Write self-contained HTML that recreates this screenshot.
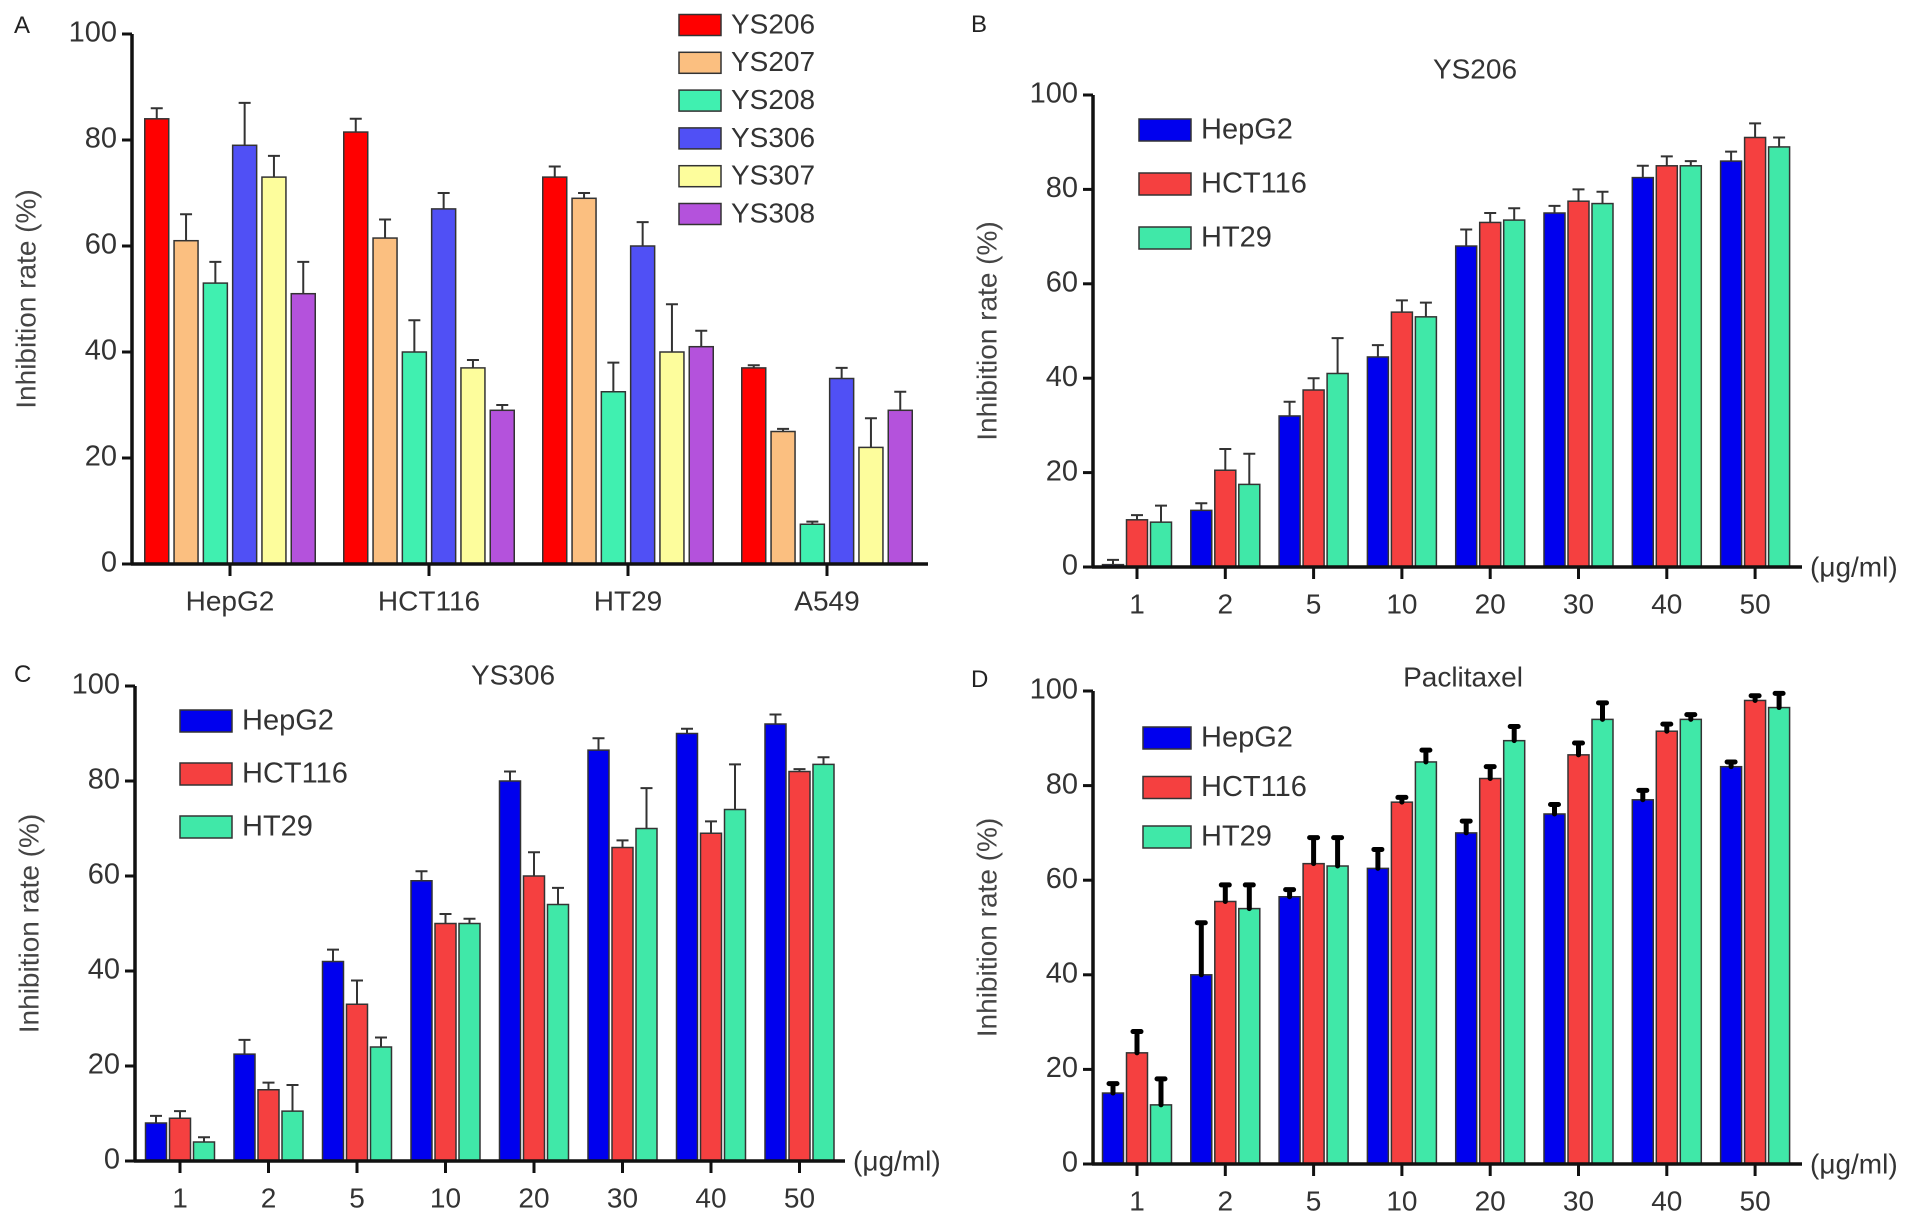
<!DOCTYPE html>
<html><head><meta charset="utf-8"><style>
html,body{margin:0;padding:0;background:#fff;}
svg{display:block;font-family:"Liberation Sans",Arial,sans-serif;}
</style></head><body>
<svg id="fig" width="1915" height="1222" viewBox="0 0 1915 1222" xmlns="http://www.w3.org/2000/svg"></svg>
<script>
// ---- Panel A data ----
const catsA = ["HepG2","HCT116","HT29","A549"];
const seriesNamesA = ["YS206","YS207","YS208","YS306","YS307","YS308"];
const ys206 = [84, 81.5, 73, 37];
const ys207 = [61, 61.5, 69, 25];
const ys208 = [53, 40, 32.5, 7.5];
const ys306 = [79, 67, 60, 35];
const ys307 = [73, 37, 40, 22];
const ys308 = [51, 29, 41, 29];
const ys206Err = [86, 84, 75, 37.5];
const ys207Err = [66, 65, 70, 25.5];
const ys208Err = [57, 46, 38, 8];
const ys306Err = [87, 70, 64.5, 37];
const ys307Err = [77, 38.5, 49, 27.5];
const ys308Err = [57, 30, 44, 32.5];
// ---- shared dose categories ----
const doses = ["1","2","5","10","20","30","40","50"];
const cellLines = ["HepG2","HCT116","HT29"];
const yTicks = [0,20,40,60,80,100];
// ---- Panel B (YS206) ----
const bHepG2 = [0.5, 12, 32, 44.5, 68, 75, 82.5, 86];
const bHCT116 = [10, 20.5, 37.5, 54, 73, 77.5, 85, 91];
const bHT29 = [9.5, 17.5, 41, 53, 73.5, 77, 85, 89];
const bHepG2Err = [1.5, 13.5, 35, 47, 71.5, 76.5, 85, 88];
const bHCT116Err = [11, 25, 40, 56.5, 75, 80, 87, 94];
const bHT29Err = [13, 24, 48.5, 56, 76, 79.5, 86, 91];
// ---- Panel C (YS306) ----
const cHepG2 = [8, 22.5, 42, 59, 80, 86.5, 90, 92];
const cHCT116 = [9, 15, 33, 50, 60, 66, 69, 82];
const cHT29 = [4, 10.5, 24, 50, 54, 70, 74, 83.5];
const cHepG2Err = [9.5, 25.5, 44.5, 61, 82, 89, 91, 94];
const cHCT116Err = [10.5, 16.5, 38, 52, 65, 67.5, 71.5, 82.5];
const cHT29Err = [5, 16, 26, 51, 57.5, 78.5, 83.5, 85];
// ---- Panel D (Paclitaxel) ----
const dHepG2 = [15, 40, 56.5, 62.5, 70, 74, 77, 84];
const dHCT116 = [23.5, 55.5, 63.5, 76.5, 81.5, 86.5, 91.5, 98];
const dHT29 = [12.5, 54, 63, 85, 89.5, 94, 94, 96.5];
const dHepG2Err = [17, 51, 58, 66.5, 72.5, 76, 79, 85];
const dHCT116Err = [28, 59, 69, 77.5, 84, 89, 93, 99];
const dHT29Err = [18, 59, 69, 87.5, 92.5, 97.5, 95, 99.5];

const NS = "http://www.w3.org/2000/svg";
const svg = document.getElementById("fig");
function mk(tag, attrs, parent, text){
  const e = document.createElementNS(NS, tag);
  for (const k in attrs) e.setAttribute(k, attrs[k]);
  if (text !== undefined) e.textContent = text;
  (parent || svg).appendChild(e);
  return e;
}

function panel(p){
  const g = mk("g", {});
  
  
  const y = v => p.y0 - (p.y0 - p.y100) * v / 100;
  const cx = i => p.x0 + p.step * i;
  const L = mk("text", {x:p.letter[0], y:p.letter[1], "font-size":24, fill:"#222"}, g, p.letterText);
  
  
  if (p.title){
    const t = mk("text", {x:p.title[0], y:p.title[1], "font-size":28, fill:"#333", "text-anchor":"middle", "dominant-baseline":"middle"}, g, p.title[2]);
    
    
  }
  const yt = mk("text", {x:0, y:0, "font-size":28, fill:"#444", "text-anchor":"middle", transform:`translate(${p.axisX-104},${(p.y0+p.y100)/2}) rotate(-90)`, "dominant-baseline":"middle"}, g, "Inhibition rate (%)");
  
  
  const n = p.series.length;
  const span = (n-1)*p.bstep + p.bw;
  p.series.forEach((s, si) => {
    s.vals.forEach((v, i) => {
      const x = cx(i) - span/2 + si*p.bstep;
      const top = y(v);
      const r = mk("rect", {x:x, y:top, width:p.bw, height:p.y0-top, fill:s.color, stroke:"#333", "stroke-width":1.5}, g);
      
      
      const e = s.err[i];
      if (e > v){
        const mx = x + p.bw/2;
        const sw = p.thickErr ? 5 : 2;
        const l = mk("path", {d:`M${mx},${top} L${mx},${y(e)} M${mx-(p.thickErr?4:6)},${y(e)} L${mx+(p.thickErr?4:6)},${y(e)}`, stroke:p.thickErr?"#000":"#333", "stroke-width":sw, fill:"none", "stroke-linecap":p.thickErr?"round":"butt"}, g);
        
        
      }
    });
  });
  const ax = mk("path", {d:`M${p.axisX},${p.y100} L${p.axisX},${p.y0} M${p.axisX-1},${p.y0} L${p.axisEnd},${p.y0}`, stroke:"#111", "stroke-width":3.5, fill:"none"}, g);
  
  
  yTicks.forEach(t => {
    const tk = mk("line", {x1:p.axisX-10, x2:p.axisX, y1:y(t), y2:y(t), stroke:"#111", "stroke-width":3}, g);
    
    
    const tl = mk("text", {x:p.axisX-15, y:y(t), "font-size":29, fill:"#333", "text-anchor":"end", "dominant-baseline":"middle"}, g, String(t));
    
    
  });
  p.cats.forEach((c, i) => {
    const tk = mk("line", {x1:cx(i), x2:cx(i), y1:p.y0, y2:p.y0+12, stroke:"#111", "stroke-width":3}, g);
    
    
    const tl = mk("text", {x:cx(i), y:p.y0+39, "font-size":28, fill:"#333", "text-anchor":"middle", "dominant-baseline":"middle"}, g, c);
    
    
  });
  if (p.unit){
    const u = mk("text", {x:p.axisEnd+8, y:p.y0+2, "font-size":28, fill:"#333", "dominant-baseline":"middle"}, g, "(\u03bcg/ml)");
    
    
  }
  p.series.forEach((s, si) => {
    const cy = p.leg.y + p.leg.dy*si;
    const sw = mk("rect", {x:p.leg.x, y:cy-p.leg.h/2, width:p.leg.w, height:p.leg.h, fill:s.color, stroke:"#333", "stroke-width":1.5}, g);
    
    
    const lt = mk("text", {x:p.leg.x+p.leg.w+10, y:cy+1, "font-size":p.leg.fs, fill:"#333", "dominant-baseline":"middle"}, g, s.label);
    
    
  });
}

const colsA = ["#ff0000","#fbbf80","#40f0b0","#5050f5","#fdfd9c","#b452dc"];
const valsA = [ys206, ys207, ys208, ys306, ys307, ys308];
const errsA = [ys206Err, ys207Err, ys208Err, ys306Err, ys307Err, ys308Err];
panel({name:"panel-a", letterText:"A", letter:[14,33], cats:catsA,
  series: seriesNamesA.map((nm,i)=>({label:nm, color:colsA[i], vals:valsA[i], err:errsA[i]})),
  axisX:132, axisEnd:928, y0:564, y100:34, x0:230, step:199, bw:24, bstep:29.3,
  leg:{x:679, y:25, dy:37.8, w:42, h:21, fs:28}});

const colsB = ["#0000ee","#f54040","#40e8a8"];
panel({name:"panel-b", letterText:"B", letter:[971,32], title:[1475,71,"YS206"], cats:doses, unit:true,
  series: [{label:"HepG2", color:colsB[0], vals:bHepG2, err:bHepG2Err},
           {label:"HCT116", color:colsB[1], vals:bHCT116, err:bHCT116Err},
           {label:"HT29", color:colsB[2], vals:bHT29, err:bHT29Err}],
  axisX:1093, axisEnd:1802, y0:567, y100:95, x0:1137, step:88.3, bw:21, bstep:24,
  leg:{x:1139, y:130, dy:54, w:52, h:22, fs:29}});

panel({name:"panel-c", letterText:"C", letter:[14,682], title:[513,677,"YS306"], cats:doses, unit:true,
  series: [{label:"HepG2", color:colsB[0], vals:cHepG2, err:cHepG2Err},
           {label:"HCT116", color:colsB[1], vals:cHCT116, err:cHCT116Err},
           {label:"HT29", color:colsB[2], vals:cHT29, err:cHT29Err}],
  axisX:135, axisEnd:845, y0:1161, y100:686, x0:180, step:88.5, bw:21, bstep:24,
  leg:{x:180, y:721, dy:53, w:52, h:22, fs:29}});

panel({name:"panel-d", letterText:"D", letter:[971,687], title:[1463,679,"Paclitaxel"], cats:doses, unit:true, thickErr:true,
  series: [{label:"HepG2", color:colsB[0], vals:dHepG2, err:dHepG2Err},
           {label:"HCT116", color:colsB[1], vals:dHCT116, err:dHCT116Err},
           {label:"HT29", color:colsB[2], vals:dHT29, err:dHT29Err}],
  axisX:1093, axisEnd:1802, y0:1164, y100:691, x0:1137, step:88.3, bw:21, bstep:24,
  leg:{x:1143, y:738, dy:49.5, w:48, h:22, fs:29}});
</script>
</body></html>
